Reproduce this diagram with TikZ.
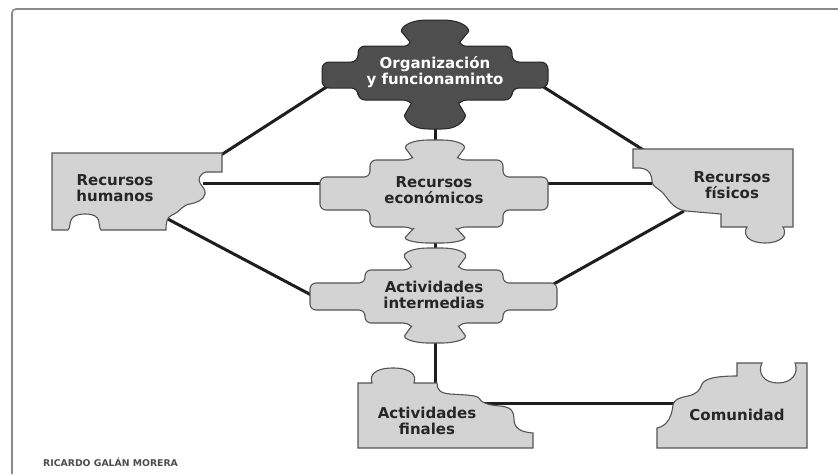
\documentclass[tikz,border=0pt]{standalone}
\usepackage{fontspec}
\setmainfont{DejaVu Sans}
\definecolor{darkpiece}{HTML}{4E4E4E}
\definecolor{lightpiece}{HTML}{D3D3D3}
\definecolor{edgegray}{HTML}{555555}
\definecolor{linkcol}{HTML}{1E1E1E}
\definecolor{framecol}{HTML}{8A8A8A}
\tikzset{
  darkshape/.style={fill=darkpiece, draw=black!85, line width=1pt, rounded corners=7pt},
  lightshape/.style={fill=lightpiece, draw=edgegray, line width=1.1pt, rounded corners=6pt},
  lightcorner/.style={fill=lightpiece, draw=edgegray, line width=1.1pt},
  link/.style={draw=linkcol, line width=3pt},
  lbl/.style={font=\fontsize{15}{16.5}\selectfont\bfseries, align=center, text=black!85, inner sep=0pt},
  wlbl/.style={lbl, text=white},
  frame/.style={draw=framecol, line width=1.6pt, rounded corners=4pt},
  credit/.style={font=\fontsize{9.3}{10}\selectfont\bfseries, text=black!70, inner sep=0pt, anchor=west}
}
\begin{document}
\begin{tikzpicture}[x=1pt,y=-1pt]
\useasboundingbox (0,0) rectangle (838,474);
% frame
\draw[frame] (12,474) -- (12,9) -- (838,9);
% connector end points
\coordinate (org-l) at (328,86);
\coordinate (org-r) at (542,86);
\coordinate (org-b) at (435,125);
\coordinate (eco-t) at (435,145);
\coordinate (eco-l) at (325,183);
\coordinate (eco-r) at (543,183);
\coordinate (eco-b) at (435,238);
\coordinate (int-t) at (435,253);
\coordinate (int-l) at (315,297);
\coordinate (int-r) at (552,285);
\coordinate (int-b) at (435,338);
\coordinate (hum-t) at (221,155);
\coordinate (hum-r) at (203,183);
\coordinate (hum-b) at (164,217);
\coordinate (fis-t) at (645,151);
\coordinate (fis-l) at (652,183);
\coordinate (fis-b) at (684,211);
\coordinate (fin-t) at (435,385);
\coordinate (fin-r) at (481,403);
\coordinate (com-l) at (674,403);
% connectors
\draw[link] (org-l) -- (hum-t);
\draw[link] (org-r) -- (fis-t);
\draw[link] (org-b) -- (eco-t);
\draw[link] (eco-l) -- (hum-r);
\draw[link] (eco-r) -- (fis-l);
\draw[link] (eco-b) -- (int-t);
\draw[link] (int-l) -- (hum-b);
\draw[link] (int-r) -- (fis-b);
\draw[link] (int-b) -- (fin-t);
\draw[link] (fin-r) -- (com-l);
% Organizacion (dark cross)
\draw[darkshape] (358,46) -- (398,46)
  .. controls (408,46) and (410,42) .. (406,37) .. controls (400,30) and (405,20) .. (435,20)
  .. controls (465,20) and (470,30) .. (464,37) .. controls (460,42) and (462,46) .. (472,46)
  -- (512,46) -- (512,62) -- (548,62) -- (548,88) -- (512,88) -- (512,100) -- (474,100)
  .. controls (462,100) and (459,104) .. (462,109) .. controls (466,116) and (462,129) .. (435,129)
  .. controls (408,129) and (404,116) .. (408,109) .. controls (411,104) and (408,100) .. (396,100)
  -- (358,100) -- (358,88) -- (322,88) -- (322,62) -- (358,62) -- cycle;
% Recursos economicos
\draw[lightshape] (370,160) -- (398,160)
  .. controls (410,160) and (412,157) .. (409,153) .. controls (404,146) and (410,140) .. (435,140)
  .. controls (460,140) and (466,146) .. (461,153) .. controls (458,157) and (460,160) .. (472,160)
  -- (503,160) -- (503,177) -- (548,177) -- (548,210) -- (503,210) -- (503,227) -- (472,227)
  .. controls (460,227) and (458,230) .. (461,233) .. controls (466,239) and (458,243) .. (435,243)
  .. controls (412,243) and (404,239) .. (409,233) .. controls (412,230) and (410,227) .. (398,227)
  -- (370,227) -- (370,210) -- (320,210) -- (320,177) -- (370,177) -- cycle;
% Actividades intermedias
\draw[lightshape] (365,270) -- (397,270)
  .. controls (409,270) and (411,266) .. (408,262) .. controls (402,254) and (410,248) .. (435,248)
  .. controls (460,248) and (468,254) .. (462,262) .. controls (459,266) and (461,270) .. (473,270)
  -- (503,270) -- (503,283) -- (557,283) -- (557,310) -- (503,310) -- (503,323) -- (473,323)
  .. controls (461,323) and (459,327) .. (462,331) .. controls (467,338) and (458,343) .. (435,343)
  .. controls (412,343) and (403,338) .. (408,331) .. controls (411,327) and (409,323) .. (397,323)
  -- (365,323) -- (365,310) -- (310,310) -- (310,283) -- (365,283) -- cycle;
% Recursos humanos
\draw[lightcorner] (52,153) -- (222,153) -- (222,172) -- (206,172)
  .. controls (199,174) and (198,180) .. (200,183) .. controls (202,187) and (206,189) .. (205,194)
  .. controls (204,200) and (196,203) .. (190,204) .. controls (182,205) and (180,212) .. (172,215)
  .. controls (167,217) and (166,222) .. (166,230)
  -- (101,230) .. controls (97,226) and (104,214) .. (85,214) .. controls (66,214) and (72,226) .. (68,230)
  -- (52,230) -- cycle;
% Recursos fisicos
\draw[lightcorner] (633,149) -- (793,149) -- (793,227) -- (783,227)
  .. controls (788,235) and (781,243) .. (765,243) .. controls (749,243) and (742,235) .. (747,227)
  -- (721,227) -- (721,214) -- (686,211)
  .. controls (672,209) and (668,198) .. (662,192) .. controls (656,187) and (652,186) .. (652,181)
  .. controls (652,176) and (650,169) .. (640,168) -- (633,168) -- cycle;
% Actividades finales
\draw[lightcorner] (358,383) -- (372,383)
  .. controls (369,375) and (375,368) .. (393,368) .. controls (411,368) and (417,375) .. (414,383)
  -- (437,383) .. controls (437,390) and (440,393) .. (450,394)
  .. controls (465,395) and (476,395) .. (479,398) .. controls (481,402) and (486,405) .. (500,406)
  .. controls (512,407) and (514,412) .. (514,419) .. controls (514,428) and (520,432) .. (533,433)
  -- (533,448) -- (358,448) -- cycle;
% Comunidad
\draw[lightcorner] (657,448) -- (807,448) -- (807,363) -- (795,363)
  .. controls (799,373) and (792,383) .. (778,383) .. controls (764,383) and (757,373) .. (762,363)
  -- (737,363) -- (737,376) .. controls (718,376) and (705,378) .. (702,384)
  .. controls (700,390) and (697,394) .. (688,396) .. controls (678,398) and (674,400) .. (673,405)
  .. controls (672,415) and (668,426) .. (657,428) -- cycle;
% labels
\node[wlbl] (org) at (435,72) {Organización\\y funcionaminto};
\node[lbl] (eco) at (434,190) {Recursos\\económicos};
\node[lbl] (int) at (434,295) {Actividades\\intermedias};
\node[lbl] (hum) at (115,188) {Recursos\\humanos};
\node[lbl] (fis) at (732,185) {Recursos\\físicos};
\node[lbl] (fin) at (427,421) {Actividades\\finales};
\node[lbl] (com) at (737,415) {Comunidad};
\node[credit] (auth) at (43,462) {RICARDO GALÁN MORERA};
\end{tikzpicture}
\end{document}
